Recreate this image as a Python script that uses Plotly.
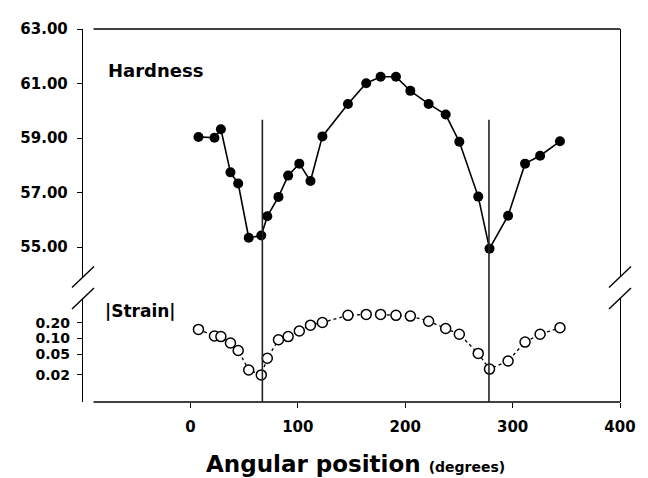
import plotly.graph_objects as go

# ---- data ----
angle = [7.5, 22.4, 28.4, 37.3, 44.5, 54.3, 66.0, 71.6, 82.0, 91.0, 101.4, 111.8, 122.9,
         146.7, 163.7, 177.1, 191.4, 204.8, 221.8, 237.7, 250.4, 268.0, 278.5, 295.8,
         311.6, 325.6, 344.1]
hardness = [59.04, 59.01, 59.32, 57.74, 57.33, 55.34, 55.42, 56.13, 56.84, 57.62, 58.06,
            57.42, 59.06, 60.25, 61.01, 61.25, 61.25, 60.73, 60.25, 59.86, 58.86, 56.85,
            54.94, 56.15, 58.06, 58.35, 58.88]
strain = [0.150, 0.112, 0.109, 0.082, 0.059, 0.0248, 0.020, 0.0417, 0.0946, 0.109, 0.140,
          0.181, 0.203, 0.279, 0.291, 0.291, 0.279, 0.270, 0.215, 0.156, 0.121, 0.0518,
          0.0259, 0.0371, 0.0854, 0.121, 0.161]
boundary_angles = [67, 278]

x_ticks = [0, 100, 200, 300, 400]
hard_ticks = [55, 57, 59, 61, 63]
hard_ticktext = ["55.00", "57.00", "59.00", "61.00", "63.00"]
strain_ticks = [0.02, 0.05, 0.10, 0.20]
strain_ticktext = ["0.02", "0.05", "0.10", "0.20"]

FONT = "DejaVu Sans"
TOP_DOM = [0.3351, 1.0]
BOT_DOM = [0.0, 0.2775]
H_GAP = 0.0196  # horizontal frame lines start a little right of the y axis

fig = go.Figure()

fig.add_trace(go.Scatter(
    x=angle, y=hardness, mode="lines+markers", xaxis="x2", yaxis="y",
    line=dict(color="black", width=1.6),
    marker=dict(color="black", size=10, symbol="circle"),
    showlegend=False))

fig.add_trace(go.Scatter(
    x=angle, y=strain, mode="lines+markers", xaxis="x", yaxis="y2",
    line=dict(color="black", width=1.3, dash="dot"),
    marker=dict(color="white", size=10, symbol="circle",
                line=dict(color="black", width=1.5)),
    showlegend=False))

tickfont = dict(family=FONT, size=15, color="black", weight="bold")

# page body has an 8px margin, so the figure is 8px smaller and shifted
fig.update_layout(
    width=640, height=470,
    margin=dict(l=64, r=16, t=12, b=76),
    paper_bgcolor="white", plot_bgcolor="white",
    xaxis=dict(anchor="y2", range=[-100, 400], tickvals=x_ticks,
               ticks="outside", ticklen=5, tickwidth=1.2, tickcolor="black",
               showline=False, showgrid=False, zeroline=False,
               tickfont=tickfont, ticklabelstandoff=6),
    xaxis2=dict(anchor="y", matches="x", side="top", showline=False,
                showticklabels=False, ticks="", showgrid=False, zeroline=False),
    yaxis=dict(domain=TOP_DOM, range=[53.9, 63], tickvals=hard_ticks,
               ticktext=hard_ticktext, ticks="outside", ticklen=5,
               tickwidth=1.2, tickcolor="black", showline=True, mirror=True,
               linecolor="black", linewidth=1.4, showgrid=False, zeroline=False,
               tickfont=tickfont, ticklabelstandoff=6),
    yaxis2=dict(domain=BOT_DOM, type="log", range=[-2.22, -0.23],
                tickvals=strain_ticks, ticktext=strain_ticktext,
                ticks="outside", ticklen=5, tickwidth=1.2, tickcolor="black",
                showline=True, mirror=True, linecolor="black", linewidth=1.4,
                showgrid=False, zeroline=False,
                tickfont=dict(family=FONT, size=14, color="black", weight="bold"),
                ticklabelstandoff=4),
)

# horizontal frame lines (top and bottom)
for yy in (0, 1):
    fig.add_shape(type="line", xref="paper", yref="paper", x0=H_GAP, x1=1,
                  y0=yy, y1=yy, line=dict(color="black", width=1.4))

# vertical boundary lines spanning both panels
for a in boundary_angles:
    fig.add_shape(type="line", xref="x", yref="paper", x0=a, x1=a,
                  y0=0, y1=0.7565, line=dict(color="#222222", width=1.6))

# axis break marks
for xa in (0, 1):
    for ya in (TOP_DOM[0], BOT_DOM[1]):
        fig.add_shape(type="line", xref="paper", yref="paper",
                      xsizemode="pixel", xanchor=xa, x0=-11, x1=11,
                      ysizemode="pixel", yanchor=ya, y0=-10.5, y1=10.5,
                      line=dict(color="black", width=1.4))

fig.add_annotation(text="Hardness", xref="paper", yref="paper",
                   x=0.043, y=0.89, xanchor="left", yanchor="middle",
                   showarrow=False,
                   font=dict(family=FONT, size=18, color="black", weight="bold"))
fig.add_annotation(text="|Strain|", xref="paper", yref="paper",
                   x=0.0375, y=0.2435, xanchor="left", yanchor="middle",
                   showarrow=False,
                   font=dict(family=FONT, size=17, color="black", weight="bold"))
fig.add_annotation(text="Angular position <span style='font-size:14px'>(degrees)</span>",
                   xref="paper", yref="paper", x=0.507, y=-0.165,
                   xanchor="center", yanchor="middle", showarrow=False,
                   font=dict(family=FONT, size=23, color="black", weight="bold"))

fig.write_html("out.html")
